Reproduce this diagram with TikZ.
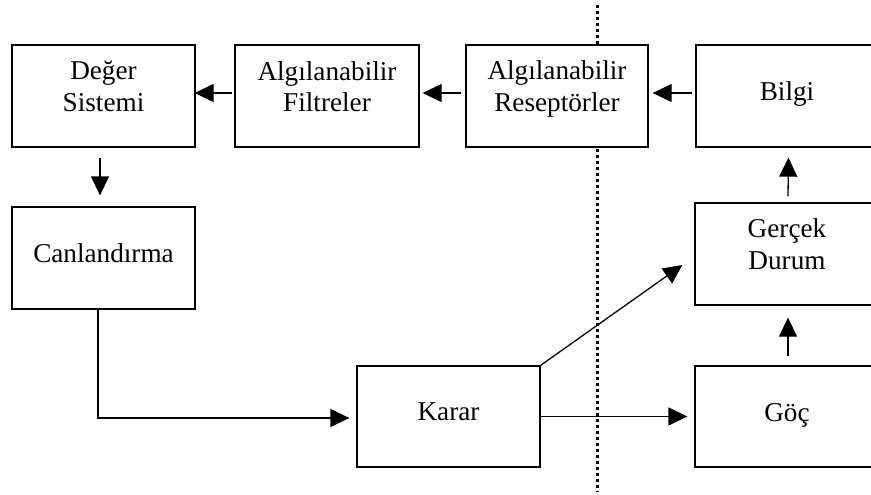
\documentclass[tikz,border=0pt]{standalone}
\usepackage{fontspec}
\setmainfont{Liberation Serif}
\usetikzlibrary{arrows.meta}

\tikzset{
  blk/.style={draw, line width=1.3pt, fill=white, inner sep=0pt,
              minimum width=183pt, minimum height=102pt},
  lbl/.style={anchor=base, align=center, inner sep=0pt,
              font=\fontsize{27.2}{31.5}\selectfont},
  arr/.style={line width=1.3pt, -{Triangle[length=19pt,width=18pt]}},
  dotline/.style={line width=3pt, dash pattern=on 3pt off 3pt}
}

\begin{document}
\begin{tikzpicture}[x=1pt,y=-1pt]
  \useasboundingbox (0,0) rectangle (871,495);
  \clip (0,0) rectangle (871,495);

  % boundary between the perceiving side and the environment
  \coordinate (dtop) at (597,5);
  \coordinate (dbot) at (597,492);
  \draw[dotline] (dtop) -- (dbot);

  % boxes
  \node[blk] (deger)  at (103.5,96)  {};
  \node[blk, minimum width=184pt] (filt) at (327,96) {};
  \node[blk, minimum width=182pt] (resep) at (557,96) {};
  \node[blk, minimum width=182pt] (bilgi) at (787,96) {};
  \node[blk] (canl)   at (103.5,258) {};
  \node[blk] (gercek) at (786.5,254) {};
  \node[blk, minimum height=101pt] (karar) at (448.5,416.5) {};
  \node[blk, minimum height=101pt] (goc)   at (786.5,416.5) {};

  % box texts (base anchor sits on the last line)
  \node[lbl] (deger-t)  at (103.5,111) {Değer\\Sistemi};
  \node[lbl] (filt-t)   at (327,112)   {Algılanabilir\\Filtreler};
  \node[lbl] (resep-t)  at (557,111)   {Algılanabilir\\Reseptörler};
  \node[lbl] (bilgi-t)  at (787,100)   {Bilgi};
  \node[lbl] (canl-t)   at (103.5,262) {Canlandırma};
  \node[lbl] (gercek-t) at (787,269)   {Gerçek\\Durum};
  \node[lbl] (karar-t)  at (448.5,420) {Karar};
  \node[lbl] (goc-t)    at (787,421)   {Göç};

  % connectors
  \draw[arr] ([xshift=-2pt,yshift=3pt]filt.west) -- ([xshift=-1pt,yshift=3pt]deger.east);
  \draw[arr] ([xshift=-4pt,yshift=3pt]resep.west) -- ([xshift=3pt,yshift=3pt]filt.east);
  \draw[arr] ([xshift=-3pt,yshift=3pt]bilgi.west) -- ([xshift=4pt,yshift=3pt]resep.east);
  \draw[arr] ([xshift=-3.5pt,yshift=-10pt]deger.south) -- ([xshift=-3.5pt,yshift=11pt]canl.north);
  \draw[arr] ([xshift=-5.5pt]canl.south) |- ([xshift=-7pt,yshift=-1.5pt]karar.west);
  \coordinate (gtip) at ([xshift=-12pt,yshift=-11pt]gercek.west);
  \draw[arr] (karar.north east) -- (gtip);
  \draw[arr] (karar.east) -- ([xshift=-7pt]goc.west);
  \draw[arr] ([xshift=1.5pt,yshift=9pt]goc.north) -- ([xshift=1.5pt,yshift=-12pt]gercek.south);
  \draw[arr] ([xshift=1.5pt,yshift=6pt]gercek.north) -- ([xshift=1.5pt,yshift=-10pt]bilgi.south);
\end{tikzpicture}
\end{document}
